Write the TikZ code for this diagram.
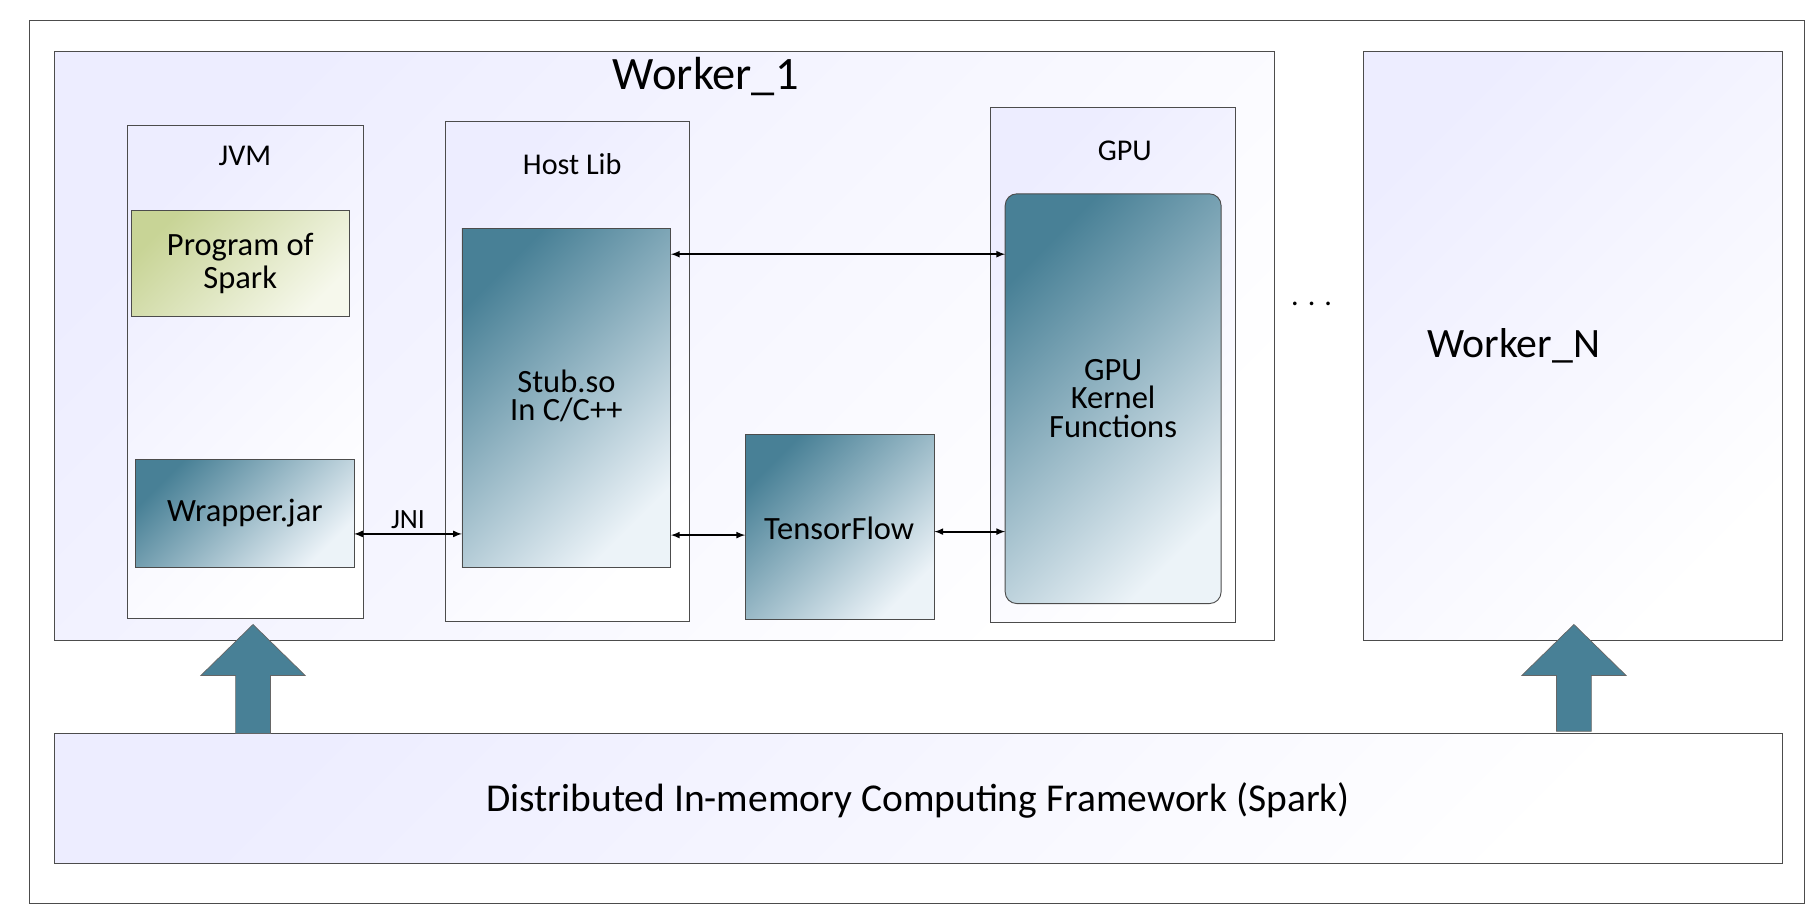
\documentclass[tikz,border=0pt]{standalone}
\usepackage{fontspec}
\setmainfont{Carlito}
\usetikzlibrary{positioning}
\definecolor{deep}{RGB}{72,128,150}
\definecolor{mist}{RGB}{236,243,248}
\definecolor{olive}{RGB}{200,212,150}
\definecolor{cream}{RGB}{246,248,236}
\newcommand{\fs}[1]{\fontsize{#1}{#1}\selectfont}

\begin{document}
\begin{tikzpicture}[
  x=1pt, y=-1pt,
  frame/.style={draw=black!70, line width=0.8pt, top color=blue!7, bottom color=white, shading angle=45},
  teal/.style={draw=black!70, line width=0.8pt, top color=deep, bottom color=mist, shading angle=45},
  link/.style={<->, >=latex, line width=1.6pt},
  lift/.style={fill=deep, draw=black!60, line width=0.6pt},
]
\useasboundingbox (0,0) rectangle (1568,784);
\draw [black!70, line width=0.8pt] (25,18) rectangle (1555,778);

% workers
\path [frame] (47,44) rectangle (1098,552);
\node at (608,66) {\fs{40}Worker\_1};
\path [frame] (1175,44) rectangle (1536,552);
\node (workN) at (1304,298) {\fs{36}Worker\_N};
\node at (1130,262) {\fs{26}. . .};

% containers
\path [frame] (110,108) rectangle (313,533);
\node at (211,134) {\fs{26}JVM};
\path [frame] (384,105) rectangle (594,535);
\node at (493,141) {\fs{26}Host Lib};
\path [frame] (853,93) rectangle (1064,536);
\node at (969,130) {\fs{26}GPU};

% inner blocks
\path [draw=black!70, line width=0.8pt, top color=olive, bottom color=cream, shading angle=45]
  (113,181) rectangle (301,273);
\node [align=center] at (207,227) {\fs{28}Program of\\[4pt]\fs{28}Spark};
\path [teal] (117,396) rectangle (305,489);
\node (wrap) at (211,442) {\fs{28}Wrapper.jar};
\path [teal] (398,197) rectangle (578,489);
\node [align=center] at (488,341) {\fs{28}Stub.so\\[4pt]\fs{28}In C/C++};
\path [teal] (642,374) rectangle (805,534);
\node at (723,455) {\fs{28}TensorFlow};
\path [teal, rounded corners=10pt] (866,167) rectangle (1052,520);
\node [align=center] at (959,343) {\fs{28}GPU\\[4pt]\fs{28}Kernel\\[4pt]\fs{28}Functions};

% connectors
\coordinate (wrapE) at (305,460); \coordinate (stubW) at (398,460);
\coordinate (stubNE) at (578,219); \coordinate (kernNW) at (866,219);
\coordinate (stubSE) at (578,461); \coordinate (tfW) at (642,461);
\coordinate (tfE) at (805,458); \coordinate (kernSW) at (866,458);
\draw [link] (wrapE) -- node [above] {\fs{24}JNI} (stubW);
\draw [link] (stubNE) -- (kernNW);
\draw [link] (stubSE) -- (tfW);
\draw [link] (tfE) -- (kernSW);

% base
\path [frame] (47,632) rectangle (1536,744);
\node at (791,690) {\fs{34}Distributed In-memory Computing Framework (Spark)};
\draw [lift] (203,632) -- (203,582) -- (173,582) -- (218,538) -- (263,582) -- (233,582) -- (233,632) -- cycle;
\draw [lift] (1341,630) -- (1341,582) -- (1311,582) -- (1356,538) -- (1401,582) -- (1371,582) -- (1371,630) -- cycle;
\end{tikzpicture}
\end{document}
